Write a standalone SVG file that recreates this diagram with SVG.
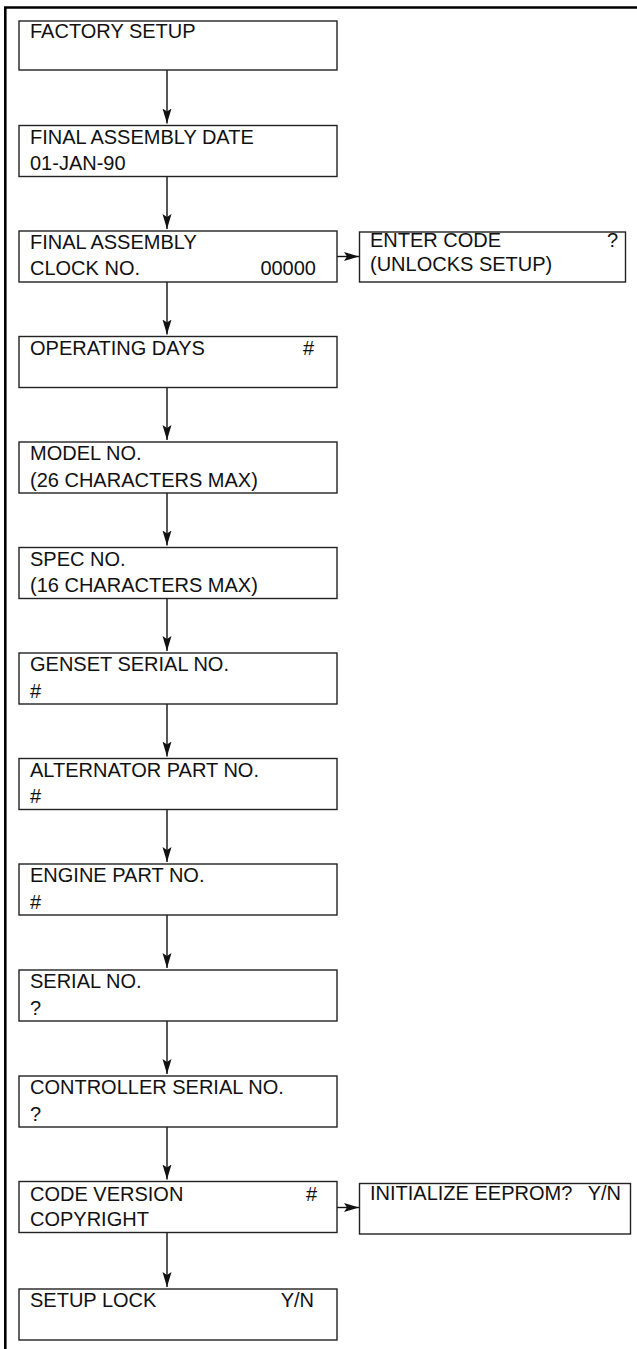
<svg xmlns="http://www.w3.org/2000/svg" width="637" height="1349" viewBox="0 0 637 1349">
<style>
.box{fill:#fff;stroke:#222;stroke-width:1.4}
.t{font-family:"Liberation Sans",Arial,sans-serif;font-size:20px;fill:#111}
.e{text-anchor:end}
.c{stroke:#111;stroke-width:1.4;fill:none}
.frame{stroke:#000;stroke-width:2.6;fill:none}
</style>
<defs>
<marker id="ah" markerUnits="userSpaceOnUse" markerWidth="16" markerHeight="10" refX="15" refY="4.5" orient="auto">
<path d="M0,0 L15,4.5 L0,9 L3,4.5 Z" fill="#111"/>
</marker>
</defs>
<path class="frame" d="M5.3,1349 V7.5 H637"/>
<g id="connectors">
<line class="c" x1="167" y1="70" x2="167" y2="123.5" marker-end="url(#ah)"/>
<line class="c" x1="167" y1="176.5" x2="167" y2="229" marker-end="url(#ah)"/>
<line class="c" x1="167" y1="282" x2="167" y2="334.5" marker-end="url(#ah)"/>
<line class="c" x1="167" y1="387.5" x2="167" y2="440" marker-end="url(#ah)"/>
<line class="c" x1="167" y1="493" x2="167" y2="545.5" marker-end="url(#ah)"/>
<line class="c" x1="167" y1="598.5" x2="167" y2="651" marker-end="url(#ah)"/>
<line class="c" x1="167" y1="704" x2="167" y2="756.5" marker-end="url(#ah)"/>
<line class="c" x1="167" y1="809.5" x2="167" y2="862" marker-end="url(#ah)"/>
<line class="c" x1="167" y1="915" x2="167" y2="968" marker-end="url(#ah)"/>
<line class="c" x1="167" y1="1021" x2="167" y2="1074" marker-end="url(#ah)"/>
<line class="c" x1="167" y1="1127" x2="167" y2="1179.5" marker-end="url(#ah)"/>
<line class="c" x1="167" y1="1232.5" x2="167" y2="1287" marker-end="url(#ah)"/>
<line class="c" x1="337" y1="256.5" x2="359" y2="256.5" marker-end="url(#ah)"/>
<line class="c" x1="337" y1="1207.5" x2="359" y2="1207.5" marker-end="url(#ah)"/>
</g>
<g id="n1"><rect class="box" x="19" y="21" width="318" height="49"/><text class="t" x="30" y="37.5">FACTORY SETUP</text></g>
<g id="n2"><rect class="box" x="19" y="125.5" width="318" height="51"/><text class="t" x="30" y="143.5">FINAL ASSEMBLY DATE</text><text class="t" x="30" y="170">01-JAN-90</text></g>
<g id="n3"><rect class="box" x="19" y="231" width="318" height="51"/><text class="t" x="30" y="249">FINAL ASSEMBLY</text><text class="t" x="30" y="275">CLOCK NO.</text><text class="t e" x="316" y="275">00000</text></g>
<g id="n3b"><rect class="box" x="359.5" y="232" width="266" height="50"/><text class="t" x="370" y="246.7">ENTER CODE</text><text class="t e" x="618" y="246.7">?</text><text class="t" x="370" y="271">(UNLOCKS SETUP)</text></g>
<g id="n4"><rect class="box" x="19" y="336.5" width="318" height="51"/><text class="t" x="30" y="354.5">OPERATING DAYS</text><text class="t e" x="314" y="354.5">#</text></g>
<g id="n5"><rect class="box" x="19" y="442" width="318" height="51"/><text class="t" x="30" y="460">MODEL NO.</text><text class="t" x="30" y="486.5">(26 CHARACTERS MAX)</text></g>
<g id="n6"><rect class="box" x="19" y="547.5" width="318" height="51"/><text class="t" x="30" y="565.5">SPEC NO.</text><text class="t" x="30" y="592">(16 CHARACTERS MAX)</text></g>
<g id="n7"><rect class="box" x="19" y="653" width="318" height="51"/><text class="t" x="30" y="671">GENSET SERIAL NO.</text><text class="t" x="30" y="697.5">#</text></g>
<g id="n8"><rect class="box" x="19" y="758.5" width="318" height="51"/><text class="t" x="30" y="776.5">ALTERNATOR PART NO.</text><text class="t" x="30" y="803">#</text></g>
<g id="n9"><rect class="box" x="19" y="864" width="318" height="51"/><text class="t" x="30" y="882">ENGINE PART NO.</text><text class="t" x="30" y="908.5">#</text></g>
<g id="n10"><rect class="box" x="19" y="970" width="318" height="51"/><text class="t" x="30" y="988">SERIAL NO.</text><text class="t" x="30" y="1014.5">?</text></g>
<g id="n11"><rect class="box" x="19" y="1076" width="318" height="51"/><text class="t" x="30" y="1094">CONTROLLER SERIAL NO.</text><text class="t" x="30" y="1120.5">?</text></g>
<g id="n12"><rect class="box" x="19" y="1181.5" width="318" height="51"/><text class="t" x="30" y="1200.5">CODE VERSION</text><text class="t e" x="317" y="1200.5">#</text><text class="t" x="30" y="1226">COPYRIGHT</text></g>
<g id="n12b"><rect class="box" x="359.5" y="1183.5" width="271" height="50.5"/><text class="t" x="370" y="1199.5">INITIALIZE EEPROM?</text><text class="t e" x="621" y="1199.5">Y/N</text></g>
<g id="n13"><rect class="box" x="19" y="1289" width="318" height="51"/><text class="t" x="30" y="1307">SETUP LOCK</text><text class="t e" x="314" y="1307">Y/N</text></g>
</svg>
